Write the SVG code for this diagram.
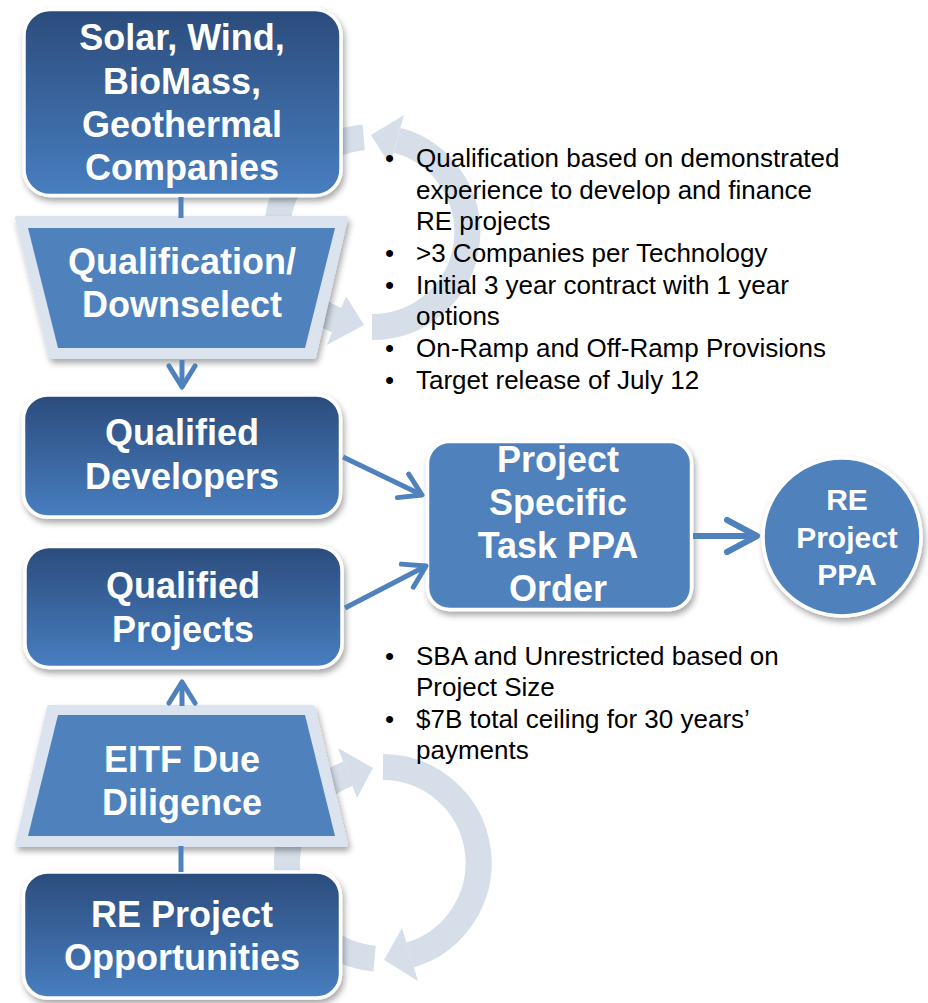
<svg xmlns="http://www.w3.org/2000/svg" width="928" height="1003" viewBox="0 0 928 1003">
<style>
.nt{font-family:"Liberation Sans",Arial,sans-serif;font-weight:bold;font-size:36px;fill:#ffffff;text-anchor:middle}
.nts{font-size:30px}
.bt{font-family:"Liberation Sans",Arial,sans-serif;font-size:26px;fill:#000000}
.box{stroke:#ffffff;stroke-width:3.5;filter:url(#shadow)}
.frame{fill:#dbe3ee;stroke:#dbe3ee;stroke-width:4;stroke-linejoin:round;filter:url(#shadow)}
.inner{fill:#4f81bd}
.arc{fill:none;stroke:#d6dfe9;stroke-width:26}
.ah{fill:#d6dfe9}
.conn{fill:none;stroke:#4f81bd;stroke-width:5}
</style>
<defs>
<linearGradient id="grad" x1="0" y1="0" x2="0" y2="1">
<stop offset="0" stop-color="#2b4c7c"/>
<stop offset="1" stop-color="#487ec0"/>
</linearGradient>
<filter id="shadow" x="-10%" y="-10%" width="125%" height="130%">
<feDropShadow dx="2" dy="4" stdDeviation="3" flood-color="#000" flood-opacity="0.35"/>
</filter>
<marker id="chev" viewBox="0 0 32 36" markerWidth="32" markerHeight="36" refX="27" refY="18" orient="auto" markerUnits="userSpaceOnUse">
<path d="M6,5 L27,18 L6,31" fill="none" stroke="#4f81bd" stroke-width="5" stroke-linecap="round" stroke-linejoin="round"/>
</marker>
<marker id="chevL" viewBox="0 0 42 44" markerWidth="42" markerHeight="44" refX="36" refY="22" orient="auto" markerUnits="userSpaceOnUse">
<path d="M6,6 L36,22 L6,38" fill="none" stroke="#4f81bd" stroke-width="6" stroke-linecap="round" stroke-linejoin="round"/>
</marker>
</defs>

<g id="cycles">
<path class="arc" d="M372 327 A95 95 0 0 0 397.1 140.3"/>
<polygon class="ah" points="390,165 404,115 371,135"/>
<path class="arc" d="M363.7 137.4 A95 95 0 0 0 337 320.3"/>
<polygon class="ah" points="346,296 327,345 364,325"/>
<path class="arc" d="M383 767 A96 96 0 0 1 410 955"/>
<polygon class="ah" points="402,928 418,981 384,960"/>
<path class="arc" d="M374.6 958.6 A96 96 0 0 1 348 773.6"/>
<polygon class="ah" points="357,798 338,748 373,768"/>
</g>

<g id="node-companies">
<rect class="box" x="24" y="9.5" width="317" height="186" rx="26" fill="url(#grad)"/>
<text class="nt" x="182" y="50">Solar, Wind,</text>
<text class="nt" x="182" y="94">BioMass,</text>
<text class="nt" x="182" y="137">Geothermal</text>
<text class="nt" x="182" y="180">Companies</text>
</g>

<g id="node-qualification">
<polygon class="frame" points="17,218 346,218 314,357 51,357"/>
<polygon class="inner" points="28,228 335,228 305,348 58,348"/>
<text class="nt" x="182" y="274">Qualification/</text>
<text class="nt" x="182" y="317">Downselect</text>
</g>

<g id="node-developers">
<rect class="box" x="23.5" y="395" width="317" height="122" rx="24" fill="url(#grad)"/>
<text class="nt" x="182" y="445">Qualified</text>
<text class="nt" x="182" y="489">Developers</text>
</g>

<g id="node-projects">
<rect class="box" x="25" y="546.5" width="317" height="121" rx="24" fill="url(#grad)"/>
<text class="nt" x="183" y="598">Qualified</text>
<text class="nt" x="183" y="642">Projects</text>
</g>

<g id="node-eitf">
<polygon class="frame" points="49,707 313,707 346,845 17,845"/>
<polygon class="inner" points="58,715 305,715 335,836 28,836"/>
<text class="nt" x="182" y="772">EITF Due</text>
<text class="nt" x="182" y="815">Diligence</text>
</g>

<g id="node-opportunities">
<rect class="box" x="23.5" y="872" width="317" height="126" rx="24" fill="url(#grad)"/>
<text class="nt" x="182" y="927">RE Project</text>
<text class="nt" x="182" y="970">Opportunities</text>
</g>

<g id="node-task-order">
<rect class="box" x="427.5" y="441.5" width="264" height="168" rx="22" fill="#4f81bd"/>
<text class="nt" x="558" y="472">Project</text>
<text class="nt" x="558" y="515">Specific</text>
<text class="nt" x="558" y="558">Task PPA</text>
<text class="nt" x="558" y="601">Order</text>
</g>

<g id="node-ppa">
<circle class="box" cx="842" cy="537" r="79" fill="#4f81bd"/>
<text class="nt nts" x="847" y="510">RE</text>
<text class="nt nts" x="847" y="548">Project</text>
<text class="nt nts" x="847" y="585">PPA</text>
</g>

<g id="connectors">
<line class="conn" x1="181" y1="197" x2="181" y2="218"/>
<line class="conn" x1="182" y1="360" x2="182" y2="387" marker-end="url(#chev)"/>
<line class="conn" x1="182" y1="706" x2="182" y2="682" marker-end="url(#chev)"/>
<line class="conn" x1="181" y1="846" x2="181" y2="872"/>
<line class="conn" x1="343" y1="457" x2="422" y2="495" marker-end="url(#chev)"/>
<line class="conn" x1="345" y1="608" x2="426" y2="566" marker-end="url(#chev)"/>
<line class="conn" style="stroke-width:6" x1="693" y1="536" x2="757" y2="536" marker-end="url(#chevL)"/>
</g>

<g id="notes-top">
<text class="bt" x="385" y="167">•</text><text class="bt" x="416" y="167">Qualification based on demonstrated</text>
<text class="bt" x="416" y="199">experience to develop and finance</text>
<text class="bt" x="416" y="230">RE projects</text>
<text class="bt" x="385" y="262">•</text><text class="bt" x="416" y="262">&gt;3 Companies per Technology</text>
<text class="bt" x="385" y="294">•</text><text class="bt" x="416" y="294">Initial 3 year contract with 1 year</text>
<text class="bt" x="416" y="325">options</text>
<text class="bt" x="385" y="357">•</text><text class="bt" x="416" y="357">On-Ramp and Off-Ramp Provisions</text>
<text class="bt" x="385" y="389">•</text><text class="bt" x="416" y="389">Target release of July 12</text>
</g>

<g id="notes-bottom">
<text class="bt" x="385" y="665">•</text><text class="bt" x="416" y="665">SBA and Unrestricted based on</text>
<text class="bt" x="416" y="696">Project Size</text>
<text class="bt" x="385" y="728">•</text><text class="bt" x="416" y="728">$7B total ceiling for 30 years’</text>
<text class="bt" x="416" y="759">payments</text>
</g>
</svg>
